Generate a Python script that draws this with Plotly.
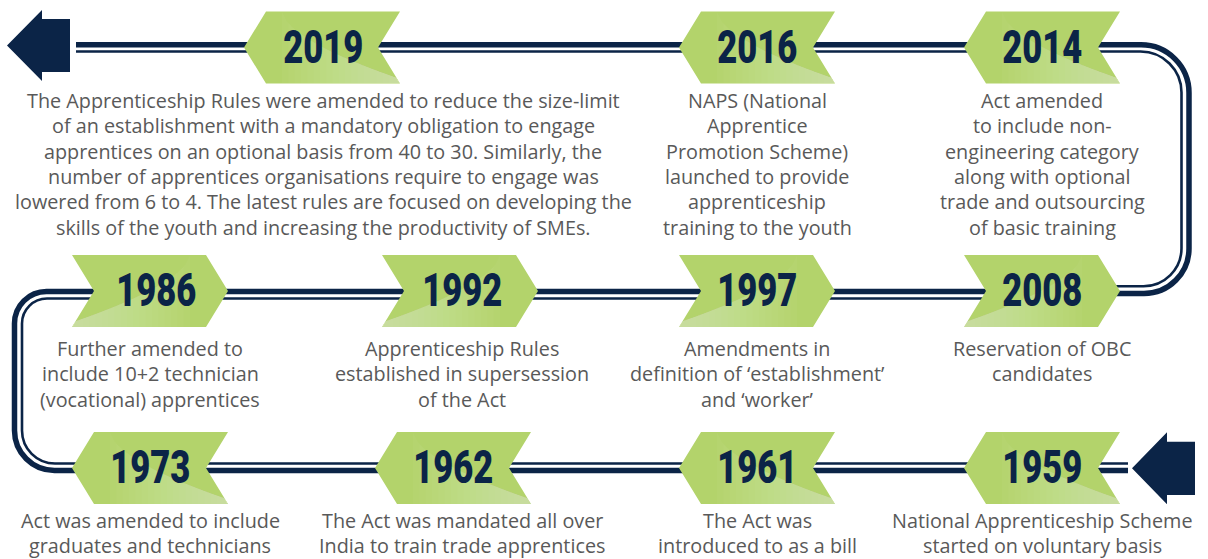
import numpy as np
import plotly.graph_objects as go

W, H = 1208, 559

# ---------------- data ----------------
years_row1 = ["2019", "2016", "2014"]
years_row2 = ["1986", "1992", "1997", "2008"]
years_row3 = ["1973", "1962", "1961", "1959"]

desc_row1 = [
    ["The Apprenticeship Rules were amended to reduce the size-limit",
     "of an establishment with a mandatory obligation to engage",
     "apprentices on an optional basis from 40 to 30. Similarly, the",
     "number of apprentices organisations require to engage was",
     "lowered from 6 to 4. The latest rules are focused on developing the",
     "skills of the youth and increasing the productivity of SMEs."],
    ["NAPS (National", "Apprentice", "Promotion Scheme)", "launched to provide",
     "apprenticeship", "training to the youth"],
    ["Act amended", "to include non-", "engineering category", "along with optional",
     "trade and outsourcing", "of basic training"],
]
desc_row2 = [
    ["Further amended to", "include 10+2 technician", "(vocational) apprentices"],
    ["Apprenticeship Rules", "established in supersession", "of the Act"],
    ["Amendments in", "definition of \u2018establishment\u2019", "and \u2018worker\u2019"],
    ["Reservation of OBC", "candidates"],
]
desc_row3 = [
    ["Act was amended to include", "graduates and technicians"],
    ["The Act was mandated all over", "India to train trade apprentices"],
    ["The Act was", "introduced to as a bill"],
    ["National Apprenticeship Scheme", "started on voluntary basis"],
]

# ---------------- layout constants ----------------
NAVY = "#0b2447"
GREEN = "#b3d36b"
GREY = "#595959"
YEAR_FONT = "Roboto, Liberation Sans, sans-serif"
TEXT_FONT = "Open Sans, Noto Sans, sans-serif"
YEAR_WIDTH = 80  # rendered width of a year label (condensed look)

BW, BH, BD = 156, 72, 22  # badge width, height, notch depth
badge_cx = [[322, 757, 1042], [150, 460, 757, 1042], [150, 453, 757, 1042]]
badge_cy = [47.5, 291, 468]
badge_dir = ["L", "R", "L"]
year_dx = [[1, 0, 0], [6, 2, 0, 0], [0, 0, 0, 0]]
text_cx = [[323, 757, 1042], [150, 462, 757, 1042], [150, 462, 757, 1042]]
text_y0 = [100.3, 348.3, 520.2]
line_h = [25.4, 25.4, 24.8]

years = [years_row1, years_row2, years_row3]
descs = [desc_row1, desc_row2, desc_row3]

K = 0.5523


def P(x, y):
    return f"{x:.2f},{y:.2f}"


def poly(pts):
    return "M " + " L ".join(P(x, y) for x, y in pts) + " Z"


def corner(p0, d0, p3, d1, r):
    c1 = (p0[0] + K * r * d0[0], p0[1] + K * r * d0[1])
    c2 = (p3[0] - K * r * d1[0], p3[1] - K * r * d1[1])
    return f" C {P(*c1)} {P(*c2)} {P(*p3)}"


shapes = []


def add_line(path, width):
    shapes.append(dict(type="path", path=path, xref="x", yref="y",
                       line=dict(color=NAVY, width=width),
                       fillcolor="rgba(0,0,0,0)", layer="above"))


THICK, THIN = 5.5, 2.6

# --- right loop: top row + right side ---
xo, yt, yb, r1, r2 = 1189, 44.8, 293.5, 48, 45
p = f"M {P(76, yt)} L {P(xo - r1, yt)}"
p += corner((xo - r1, yt), (1, 0), (xo, yt + r1), (0, 1), r1)
p += f" L {P(xo, yb - r2)}"
p += corner((xo, yb - r2), (0, 1), (xo - r2, yb), (-1, 0), r2)
p += f" L {P(1105, yb)}"
add_line(p, THICK)

xi, yt2, yb2, r1i, r2i = 1181.5, 51.5, 286.2, 41, 38
p = f"M {P(76, yt2)} L {P(xi - r1i, yt2)}"
p += corner((xi - r1i, yt2), (1, 0), (xi, yt2 + r1i), (0, 1), r1i)
p += f" L {P(xi, yb2 - r2i)}"
p += corner((xi, yb2 - r2i), (0, 1), (xi - r2i, yb2), (-1, 0), r2i)
p += f" L {P(1105, yb2)}"
add_line(p, THIN)

# --- left loop: middle row + left side + bottom row ---
xl, ym, ybot, ra, rb = 14.5, 291.5, 470.5, 32, 40
p = f"M {P(995, ym)} L {P(xl + ra, ym)}"
p += corner((xl + ra, ym), (-1, 0), (xl, ym + ra), (0, 1), ra)
p += f" L {P(xl, ybot - rb)}"
p += corner((xl, ybot - rb), (0, 1), (xl + rb, ybot), (1, 0), rb)
p += f" L {P(1128, ybot)}"
add_line(p, THICK)

xl2, ym2, ybot2, ra2, rb2 = 22, 298.5, 463.5, 25, 33
p = f"M {P(995, ym2)} L {P(xl2 + ra2, ym2)}"
p += corner((xl2 + ra2, ym2), (-1, 0), (xl2, ym2 + ra2), (0, 1), ra2)
p += f" L {P(xl2, ybot2 - rb2)}"
p += corner((xl2, ybot2 - rb2), (0, 1), (xl2 + rb2, ybot2), (1, 0), rb2)
p += f" L {P(1128, ybot2)}"
add_line(p, THIN)

# --- end arrows ---
arrow_tl = [(7, 45.5), (42, 10), (42, 19), (70, 19), (70, 72), (42, 72), (42, 81)]
arrow_br = [(1132, 468.3), (1167, 432.3), (1167, 441.7), (1195, 441.7),
            (1195, 495), (1167, 495), (1167, 504.3)]
for a in (arrow_tl, arrow_br):
    shapes.append(dict(type="path", path=poly(a), xref="x", yref="y",
                       fillcolor=NAVY, line=dict(width=0), layer="above"))


# --- badges ---
def badge_pts(direction):
    if direction == "L":
        return [(0, 36), (BD, 0), (BW, 0), (BW - BD, 36), (BW, BH), (BD, BH)]
    return [(0, 0), (BW - BD, 0), (BW, 36), (BW - BD, BH), (0, BH), (BD, 36)]


def gloss_pts(direction, t):
    u_end = 152.3
    us = np.linspace(t, u_end, 24)
    vs = 66 * ((us - 38) / (u_end - 38)) ** 0.6
    pts = list(zip(us, vs)) + [(BW, BH), (t, BH)]
    if direction == "R":
        pts = [(BW - u, v) for u, v in pts]
    return pts


GLOSS_T = np.linspace(38, 145, 18)

annotations = []
for row in range(3):
    d = badge_dir[row]
    cy = badge_cy[row]
    for i, yr in enumerate(years[row]):
        cx = badge_cx[row][i]
        x0, y0 = cx - BW / 2, cy - BH / 2
        pts = [(x0 + u, y0 + v) for u, v in badge_pts(d)]
        shapes.append(dict(type="path", path=poly(pts), xref="x", yref="y",
                           fillcolor=GREEN, line=dict(width=0), layer="above"))
        for t in GLOSS_T:
            g = [(x0 + u, y0 + v) for u, v in gloss_pts(d, t)]
            shapes.append(dict(type="path", path=poly(g), xref="x", yref="y",
                               fillcolor="white", opacity=0.026, line=dict(width=0),
                               layer="above"))
        annotations.append(dict(
            x=cx + year_dx[row][i], y=cy - 1, xref="x", yref="y",
            text=yr, showarrow=False, xanchor="center", yanchor="middle",
            font=dict(family=YEAR_FONT, size=46, color=NAVY, weight=900)))
        for j, line in enumerate(descs[row][i]):
            annotations.append(dict(
                x=text_cx[row][i], y=text_y0[row] + j * line_h[row], xref="x", yref="y",
                text=line, showarrow=False, xanchor="center", yanchor="middle",
                font=dict(family=TEXT_FONT, size=19.8, color=GREY)))

fig = go.Figure()
fig.add_trace(go.Scatter(x=[0, W], y=[0, H], mode="markers",
                         marker=dict(opacity=0), hoverinfo="skip", showlegend=False))
fig.update_layout(
    width=W, height=H, autosize=False,
    margin=dict(l=0, r=0, t=0, b=0),
    paper_bgcolor="white", plot_bgcolor="white",
    xaxis=dict(range=[0, W], visible=False, fixedrange=True),
    yaxis=dict(range=[H, 0], visible=False, fixedrange=True),
    shapes=shapes, annotations=annotations, showlegend=False,
)

post = """
document.body.style.margin='0';
document.body.style.overflow='hidden';
document.querySelectorAll('text.annotation-text').forEach(function(t){
  if (/^\\d{4}$/.test(t.textContent.trim())) {
    var b = t.getBBox();
    var cx = b.x + b.width / 2;
    var s = %d / b.width;
    t.setAttribute('transform', 'translate(' + cx + ',0) scale(' + s + ',1) translate(' + (-cx) + ',0)');
  }
});
""" % YEAR_WIDTH

fig.write_html("out.html", config={"displayModeBar": False}, post_script=post)
